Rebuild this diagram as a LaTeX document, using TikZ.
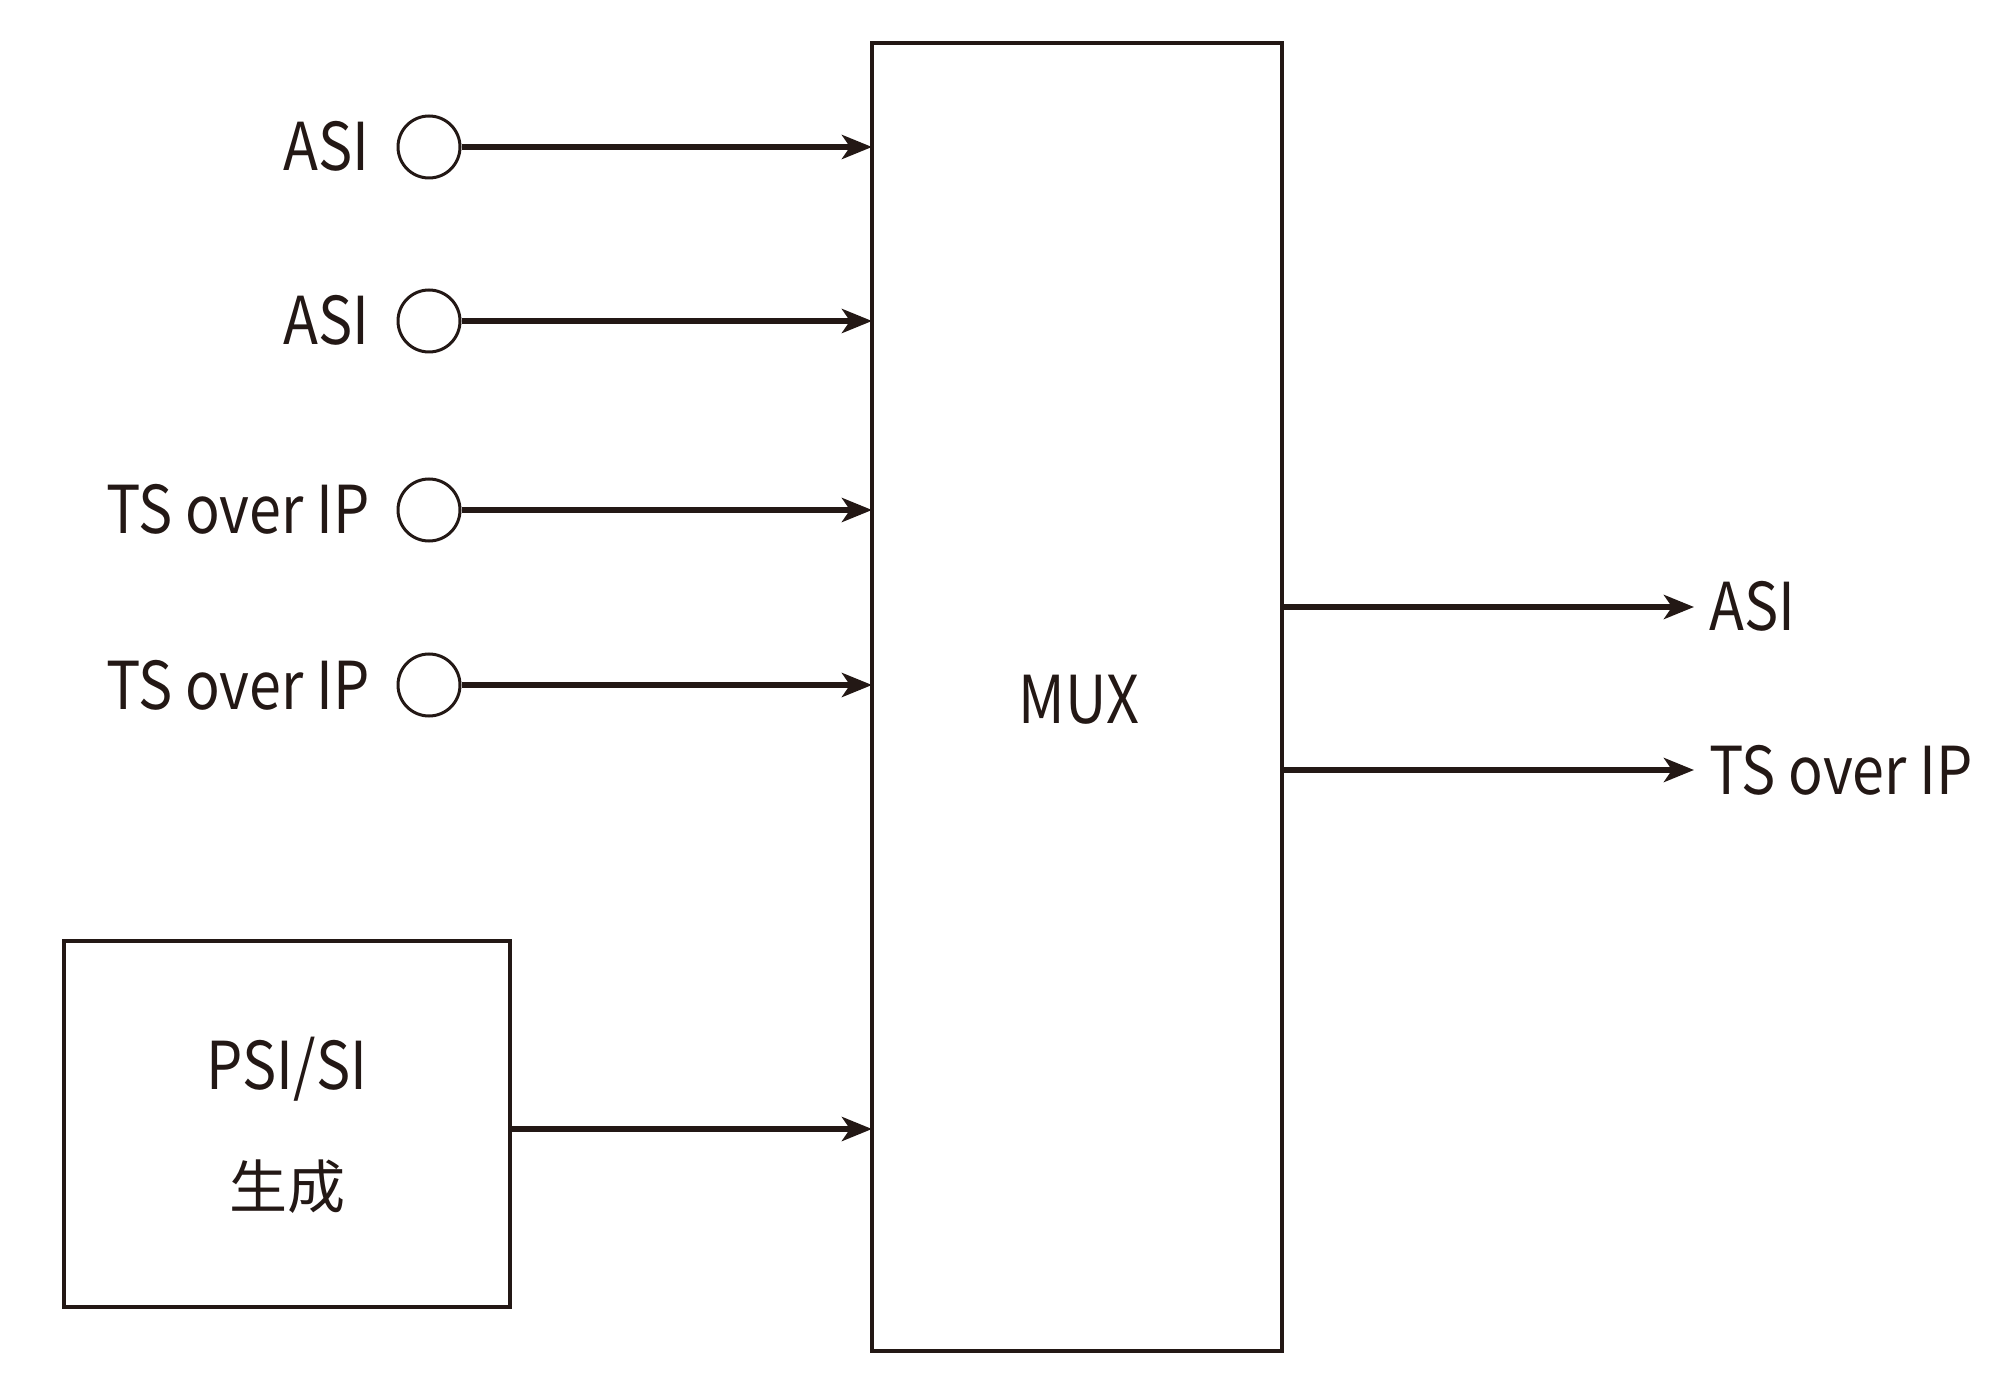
\documentclass[tikz,border=0pt]{standalone}
\usepackage{fontspec}
\setmainfont{Noto Sans CJK JP}[FakeStretch=0.87]
\newfontfamily\cjkfont{Noto Sans CJK JP}
\usetikzlibrary{arrows.meta}
\definecolor{ink}{HTML}{231815}
\begin{document}
\begin{tikzpicture}[x=0.5pt,y=-0.5pt,
  every node/.style={text=ink, font=\fontsize{33}{40}\selectfont, text height=24pt, text depth=0pt, inner sep=0pt},
  box/.style={draw=ink, line width=1.6pt, fill=white},
  port/.style={draw=ink, line width=1.5pt, circle, minimum size=31pt, inner sep=0pt},
  arr/.style={draw=ink, line width=2.8pt, -{Stealth[length=15pt,width=12pt,inset=4pt]}}]
\useasboundingbox (0,0) rectangle (2000,1400);
% MUX
\draw[box] (872,43) rectangle (1282,1351);
\coordinate (muxW) at (872,0);
\coordinate (muxE) at (1282,0);
\node (mux) at (1079,699) {MUX};
% PSI/SI box
\draw[box] (64,941) rectangle (510,1307);
\coordinate (psiE) at (510,1129);
\node (psi1) at (287,1065) {PSI/SI};
\node[font=\cjkfont\fontsize{29}{36}\selectfont] (psi2) at (287,1184) {生成};
% input ports
\node[port] (c1) at (429,147) {};
\node[port] (c2) at (429,321) {};
\node[port] (c3) at (429,510) {};
\node[port] (c4) at (429,685) {};
\node[anchor=east] (l1) at (370,147) {ASI};
\node[anchor=east] (l2) at (370,321) {ASI};
\node[anchor=east] (l3) at (370,510) {TS over IP};
\node[anchor=east] (l4) at (370,685) {TS over IP};
\draw[arr] (c1.east) -- (c1.east -| muxW);
\draw[arr] (c2.east) -- (c2.east -| muxW);
\draw[arr] (c3.east) -- (c3.east -| muxW);
\draw[arr] (c4.east) -- (c4.east -| muxW);
\draw[arr] (psiE) -- (psiE -| muxW);
% outputs
\node[anchor=west] (o1) at (1709,607) {ASI};
\node[anchor=west] (o2) at (1709,770) {TS over IP};
\draw[arr] (o1.west -| muxE) -- ([xshift=-7.5pt]o1.west);
\draw[arr] (o2.west -| muxE) -- ([xshift=-7.5pt]o2.west);
\end{tikzpicture}
\end{document}
